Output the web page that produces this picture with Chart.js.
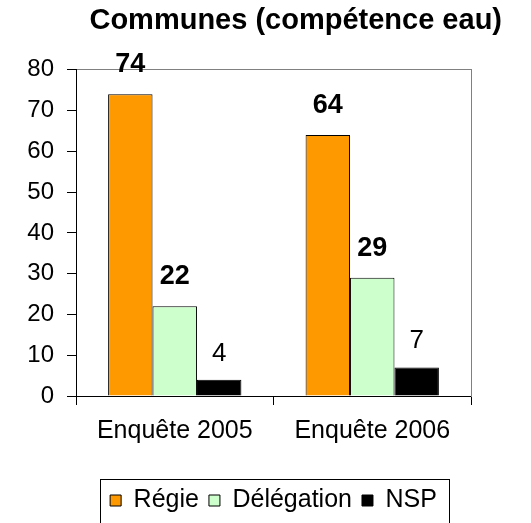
<!DOCTYPE html>
<html>
<head>
<meta charset="utf-8">
<script src="https://cdn.jsdelivr.net/npm/chart.js@4/dist/chart.umd.min.js"></script>
<style>
  html, body { margin: 0; padding: 0; background: #fff; }
  #wrap { width: 531px; height: 523px; }
</style>
</head>
<body>
<div id="wrap"><canvas id="grafik"></canvas></div>
<script>
// donnees
var categories = ['Enquête 2005', 'Enquête 2006'];
var regie = [74, 64];
var delegation = [22, 29];
var nsp = [4, 7];
var yMax = 80;
var yStep = 10;

var police = 'Liberation Sans, Arial, sans-serif';

// etiquettes de valeur au-dessus des barres
var etiquettes = {
    id: 'etiquettes',
    afterDatasetsDraw: function(chart) {
        var ctx = chart.ctx;
        ctx.save();
        ctx.fillStyle = '#000';
        ctx.textAlign = 'center';
        ctx.textBaseline = 'alphabetic';
        chart.data.datasets.forEach(function(ds, i) {
            var meta = chart.getDatasetMeta(i);
            var gras = i < 2;
            ctx.font = (gras ? 'bold 27px ' : '26px ') + police;
            meta.data.forEach(function(bar, j) {
                ctx.fillText(ds.data[j], bar.x, bar.y - (gras ? 22 : 19));
            });
        });
        ctx.restore();
    }
};

// cadre autour de la legende
var cadreLegende = {
    id: 'cadreLegende',
    afterDraw: function(chart) {
        var lg = chart.legend;
        if (!lg || !lg.legendHitBoxes.length) return;
        var minX = Infinity, maxX = -Infinity;
        lg.legendHitBoxes.forEach(function(hb) {
            minX = Math.min(minX, hb.left);
            maxX = Math.max(maxX, hb.left + hb.width);
        });
        var ctx = chart.ctx;
        ctx.save();
        ctx.strokeStyle = '#000';
        ctx.lineWidth = 1;
        ctx.strokeRect(Math.round(minX - 10) + 0.5, Math.round(lg.top + 1) + 0.5,
            Math.round(maxX - minX + 22), chart.height);
        ctx.restore();
    }
};

var ctx = document.getElementById('grafik');

var myChart = new Chart(ctx, {
    type: 'bar',
    data: {
        labels: categories,
        datasets: [
            {
                label: 'Régie',
                data: regie,
                backgroundColor: '#FF9900',
                borderColor: '#000',
                borderWidth: 1
            },
            {
                label: 'Délégation',
                data: delegation,
                backgroundColor: '#CCFFCC',
                borderColor: '#000',
                borderWidth: 1
            },
            {
                label: 'NSP',
                data: nsp,
                backgroundColor: '#000000',
                borderColor: '#000',
                borderWidth: 1
            }
        ]
    },
    options: {
        responsive: true,
        maintainAspectRatio: false,
        animation: false,
        categoryPercentage: 0.675,
        barPercentage: 1,
        layout: {
            padding: { left: 0, right: 29, top: 0, bottom: 0 }
        },
        plugins: {
            title: {
                display: true,
                text: 'Communes (compétence eau)',
                align: 'end',
                color: '#000',
                font: { family: police, size: 29, weight: 'bold' },
                padding: { top: 4, bottom: 31 }
            },
            legend: {
                position: 'bottom',
                fullSize: false,
                labels: {
                    color: '#000',
                    boxWidth: 11,
                    boxHeight: 11,
                    padding: 10,
                    font: { family: police, size: 25 }
                }
            },
            tooltip: { enabled: false }
        },
        scales: {
            x: {
                position: 'bottom',
                grid: {
                    display: true,
                    drawOnChartArea: false,
                    tickLength: 9,
                    color: '#000'
                },
                border: { color: '#000', width: 1 },
                ticks: {
                    color: '#000',
                    padding: 11,
                    font: { family: police, size: 25 }
                },
                afterFit: function(s) { s.height = 82; }
            },
            x2: {
                type: 'category',
                position: 'top',
                grid: { display: false },
                border: { color: '#808080', width: 1 },
                ticks: { display: false },
                afterFit: function(s) { s.height = 0; }
            },
            y: {
                min: 0,
                max: yMax,
                position: 'left',
                grid: {
                    display: true,
                    drawOnChartArea: false,
                    tickLength: 9,
                    color: '#000'
                },
                border: { color: '#000', width: 1 },
                ticks: {
                    stepSize: yStep,
                    color: '#000',
                    padding: 13,
                    font: { family: police, size: 24 }
                },
                afterFit: function(s) { s.width = 76; }
            },
            y2: {
                type: 'linear',
                min: 0,
                max: yMax,
                position: 'right',
                grid: { display: false },
                border: { color: '#808080', width: 1 },
                ticks: { display: false },
                afterFit: function(s) { s.width = 31; }
            }
        }
    },
    plugins: [etiquettes, cadreLegende]
});
</script>
</body>
</html>
